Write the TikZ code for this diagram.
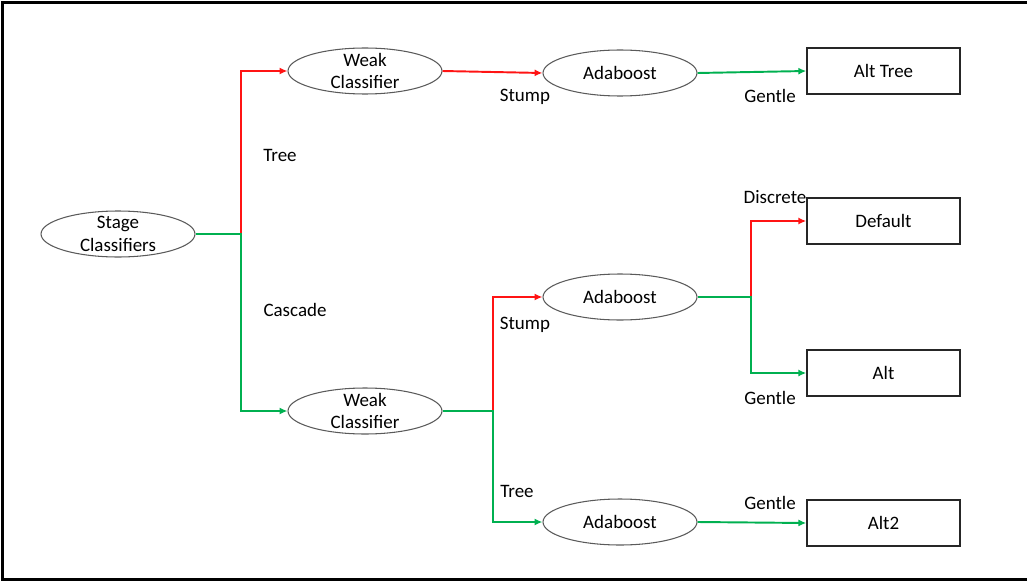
\documentclass[tikz,border=0pt]{standalone}
\usepackage{fontspec}
\setmainfont{Carlito}
\usetikzlibrary{arrows.meta,shapes.geometric}
\definecolor{offred}{RGB}{255,20,20}
\definecolor{offgreen}{RGB}{0,176,80}
\definecolor{rimgray}{RGB}{90,90,90}
\begin{document}
\begin{tikzpicture}[x=0.02cm, y=-0.02cm,
every node/.style={font=\fontsize{10.8}{13}\selectfont},
clf/.style={ellipse, draw=rimgray, line width=0.6pt, minimum width=3.08cm, minimum height=0.92cm, inner xsep=0pt, inner ysep=-2pt, align=center},
res/.style={rectangle, draw=black!85, line width=0.8pt, minimum width=3.06cm, minimum height=0.92cm},
redline/.style={draw=offred, line width=1.1pt},
greenline/.style={draw=offgreen, line width=1.1pt},
tip/.style={-{Latex[length=4.5pt,width=4pt]}}]
\useasboundingbox (0,0) rectangle (1027,581);
\draw[line width=1.4pt] (1027,2.5) -- (2.5,2.5) -- (2.5,579.5) -- (1027,579.5);
\node[clf] (stage) at (118,234) {Stage\\Classifiers};
\node[clf] (weaka) at (365,71) {Weak\\Classifier};
\node[clf] (weakb) at (365,411) {Weak\\Classifier};
\node[clf] (adaa) at (620,73) {Adaboost};
\node[clf] (adab) at (620,297) {Adaboost};
\node[clf] (adac) at (620,522) {Adaboost};
\node[res] (alttree) at (883.5,71) {Alt Tree};
\node[res] (default) at (883.5,221) {Default};
\node[res] (alt) at (883.5,373) {Alt};
\node[res] (alttwo) at (883.5,523) {Alt2};
\coordinate (ja) at (241,234);
\coordinate (jb) at (493,411);
\coordinate (jc) at (751,297);
\draw[redline,tip] (stage.east) -- (ja) |- (weaka.west);
\draw[greenline,tip] (stage.east) -- (ja) |- (weakb.west);
\draw[redline,tip] (weaka.east) -- (adaa.west);
\draw[greenline,tip] (adaa.east) -- (alttree.west);
\draw[redline,tip] (weakb.east) -- (jb) |- (adab.west);
\draw[greenline,tip] (weakb.east) -- (jb) |- (adac.west);
\draw[redline,tip] (adab.east) -- (jc) |- (default.west);
\draw[greenline,tip] (adab.east) -- (jc) |- (alt.west);
\draw[greenline,tip] (adac.east) -- (alttwo.west);
\node (lbltree) at (280,155) {Tree};
\node (lblcascade) at (295,310) {Cascade};
\node (lblstumpa) at (525,97) {Stump};
\node (lblgentlea) at (770,96) {Gentle};
\node (lbldiscrete) at (775,197) {Discrete};
\node (lblstumpb) at (525,325) {Stump};
\node (lblgentleb) at (770,398) {Gentle};
\node (lbltreeb) at (517,491) {Tree};
\node (lblgentlec) at (770,503) {Gentle};
\end{tikzpicture}
\end{document}
